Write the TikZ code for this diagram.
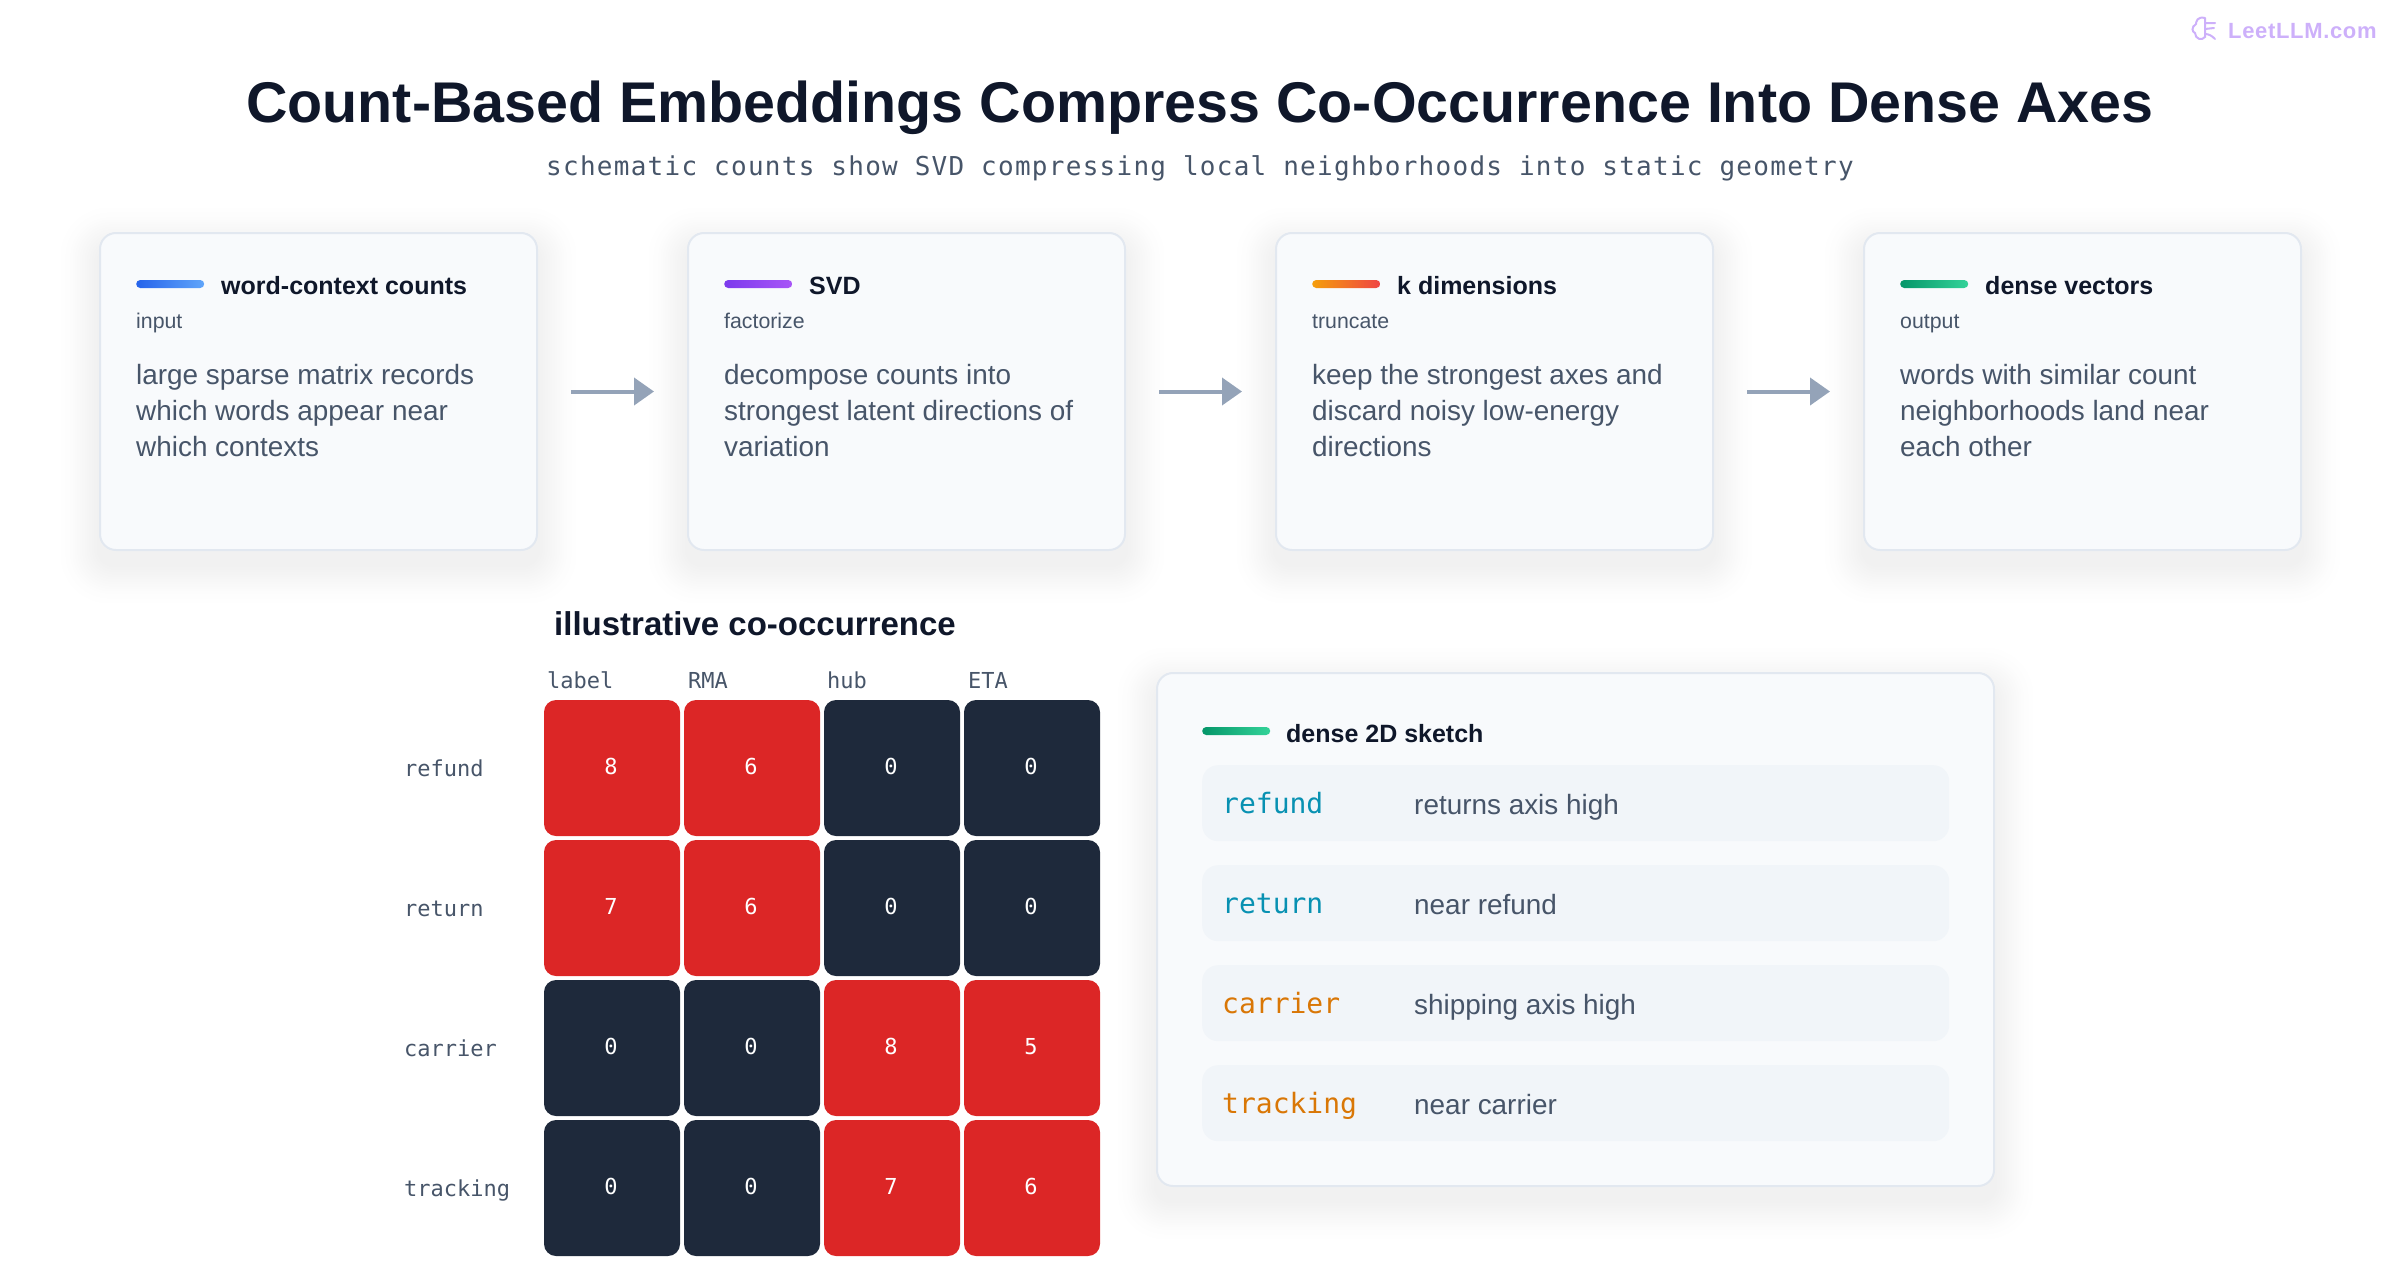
\documentclass[tikz,border=0pt]{standalone}
\usepackage{fontspec}
\usepackage{xcolor}
\setmainfont{Liberation Sans}
\setmonofont{DejaVu Sans Mono}
\newfontfamily\spacedmono[LetterSpace=4.9]{DejaVu Sans Mono}
\newfontfamily\markfont[LetterSpace=3]{Liberation Sans}
\usetikzlibrary{positioning,arrows.meta,backgrounds}

\definecolor{inkdark}{HTML}{0F172A}
\definecolor{inkbody}{HTML}{475569}
\definecolor{cardfill}{HTML}{F8FAFC}
\definecolor{cardline}{HTML}{E2E8F0}
\definecolor{rowfill}{HTML}{F1F5F9}
\definecolor{arrowgray}{HTML}{94A3B8}
\definecolor{cellred}{HTML}{DC2626}
\definecolor{cellnavy}{HTML}{1E293B}
\definecolor{wordteal}{HTML}{0891B2}
\definecolor{wordamber}{HTML}{D97706}
\definecolor{markpurple}{HTML}{CDB0FA}
\definecolor{bluea}{HTML}{2563EB}
\definecolor{blueb}{HTML}{60A5FA}
\definecolor{purplea}{HTML}{7C3AED}
\definecolor{purpleb}{HTML}{A855F7}
\definecolor{orangea}{HTML}{F59E0B}
\definecolor{orangeb}{HTML}{EF4444}
\definecolor{greena}{HTML}{059669}
\definecolor{greenb}{HTML}{34D399}

\newcommand{\softshadow}[1]{%
  \begin{scope}[on background layer]
    \foreach \s in {1,2,3,4,5,6,7,8,9,10,11,12,14,16} {
      \fill[black,opacity=0.0055,rounded corners=16pt+2pt*\s]
        ([xshift=-2.4pt*\s,yshift=-14pt-2.4pt*\s]#1.south west) rectangle ([xshift=2.4pt*\s,yshift=-14pt+2.4pt*\s]#1.north east);
    }
  \end{scope}}

\tikzset{
  card/.style={draw=cardline, line width=2pt, fill=cardfill, rounded corners=16pt, inner sep=0pt, minimum width=437pt, minimum height=317pt},
  bar/.style={anchor=west, inner sep=0pt, minimum width=68pt, minimum height=8pt, rounded corners=4pt, left color=#1},
  cardtitle/.style={anchor=base west, inner sep=0pt, text=inkdark, font=\fontsize{25}{28}\selectfont\bfseries},
  cardtag/.style={anchor=base west, inner sep=0pt, text=inkbody, font=\fontsize{21.3}{24}\selectfont},
  cardbody/.style={anchor=north west, inner sep=0pt, align=left, text=inkbody, font=\fontsize{27.9}{36}\selectfont},
  flow/.style={-{Triangle[length=20pt,width=27pt]}, line width=4pt, draw=arrowgray, shorten <=33pt, shorten >=33pt},
  matcell/.style={rounded corners=12pt, inner sep=0pt, minimum width=136pt, minimum height=136pt, text=white, text depth=4pt, font=\fontsize{22}{26}\selectfont\ttfamily},
  axislabel/.style={anchor=base west, inner sep=0pt, text=inkbody, font=\fontsize{22}{26}\selectfont\ttfamily},
  sketchrow/.style={rounded corners=16pt, fill=rowfill, inner sep=0pt, minimum width=747pt, minimum height=76pt},
  sketchword/.style={anchor=base west, inner sep=0pt, font=\fontsize{28}{32}\selectfont\ttfamily},
  sketchnote/.style={anchor=base west, inner sep=0pt, text=inkbody, font=\fontsize{27.9}{32}\selectfont}
}

\begin{document}
\begin{tikzpicture}[x=1pt,y=-1pt]
  \useasboundingbox (0,0) rectangle (2400,1274);

  % heading
  \node (heading) [inner sep=0pt, anchor=base, text=inkdark, font=\fontsize{57.4}{66}\selectfont\bfseries] at (1200,122) {Count-Based Embeddings Compress Co-Occurrence Into Dense Axes};
  \node (subheading) [inner sep=0pt, anchor=base, text=inkbody, font=\fontsize{26}{30}\selectfont\spacedmono] at (1200,175) {schematic counts show SVD compressing local neighborhoods into static geometry};

  % watermark
  \node (watermark) [inner sep=0pt, anchor=base west, text=markpurple, font=\fontsize{22}{26}\selectfont\markfont\bfseries] at (2228,38) {LeetLLM.com};
  \draw[markpurple, line width=2pt, line cap=round] (2205,18) .. controls (2197,16) and (2196,22) .. (2196,24) .. controls (2191,27) and (2192,32) .. (2195,33) .. controls (2195,39) and (2202,41) .. (2205,37) -- (2205,18);
  \draw[markpurple, line width=2pt, line cap=round] (2205,23) -- (2215,23) (2205,29) -- (2214,28) (2205,34) .. controls (2209,34) and (2212,36) .. (2215,39);

  % pipeline cards
  \node (inputcard) [card, anchor=north west] at (99,232) {};
  \node (svdcard) [card, right=149pt of inputcard] {};
  \node (truncatecard) [card, right=149pt of svdcard] {};
  \node (densecard) [card, right=149pt of truncatecard] {};
  \softshadow{inputcard}
  \softshadow{svdcard}
  \softshadow{truncatecard}
  \softshadow{densecard}

  \node (inputbar) [bar=bluea, right color=blueb] at ([xshift=37pt,yshift=-52pt]inputcard.north west) {};
  \node (inputtitle) [cardtitle] at ([xshift=122pt,yshift=-62pt]inputcard.north west) {word-context counts};
  \node (inputtag) [cardtag] at ([xshift=37pt,yshift=-96pt]inputcard.north west) {input};
  \node (inputbody) [cardbody] at ([xshift=37pt,yshift=-132.5pt]inputcard.north west) {large sparse matrix records\\which words appear near\\which contexts};

  \node (svdbar) [bar=purplea, right color=purpleb] at ([xshift=37pt,yshift=-52pt]svdcard.north west) {};
  \node (svdtitle) [cardtitle] at ([xshift=122pt,yshift=-62pt]svdcard.north west) {SVD};
  \node (svdtag) [cardtag] at ([xshift=37pt,yshift=-96pt]svdcard.north west) {factorize};
  \node (svdbody) [cardbody] at ([xshift=37pt,yshift=-132.5pt]svdcard.north west) {decompose counts into\\strongest latent directions of\\variation};

  \node (truncatebar) [bar=orangea, right color=orangeb] at ([xshift=37pt,yshift=-52pt]truncatecard.north west) {};
  \node (truncatetitle) [cardtitle] at ([xshift=122pt,yshift=-62pt]truncatecard.north west) {k dimensions};
  \node (truncatetag) [cardtag] at ([xshift=37pt,yshift=-96pt]truncatecard.north west) {truncate};
  \node (truncatebody) [cardbody] at ([xshift=37pt,yshift=-132.5pt]truncatecard.north west) {keep the strongest axes and\\discard noisy low-energy\\directions};

  \node (densebar) [bar=greena, right color=greenb] at ([xshift=37pt,yshift=-52pt]densecard.north west) {};
  \node (densetitle) [cardtitle] at ([xshift=122pt,yshift=-62pt]densecard.north west) {dense vectors};
  \node (densetag) [cardtag] at ([xshift=37pt,yshift=-96pt]densecard.north west) {output};
  \node (densebody) [cardbody] at ([xshift=37pt,yshift=-132.5pt]densecard.north west) {words with similar count\\neighborhoods land near\\each other};

  \draw[flow] (inputcard) -- (svdcard);
  \draw[flow] (svdcard) -- (truncatecard);
  \draw[flow] (truncatecard) -- (densecard);

  % count matrix
  \node (mattitle) [inner sep=0pt, anchor=base west, text=inkdark, font=\fontsize{33}{36}\selectfont\bfseries] at (554,635) {illustrative co-occurrence};
  \foreach \v [count=\n from 0] in {8,6,0,0,7,6,0,0,0,0,8,5,0,0,7,6} {
    \pgfmathtruncatemacro\r{int(\n/4)}
    \pgfmathtruncatemacro\c{mod(\n,4)}
    \ifnum\v>0 \def\cellfill{cellred}\else\def\cellfill{cellnavy}\fi
    \node (cell\r\c) [matcell, fill=\cellfill] at (612+140*\c,768+140*\r) {\v\kern2pt};
  }
  \node (collabel) [axislabel] at (547,688) {label};
  \node (colrma) [axislabel] at (688,688) {RMA};
  \node (colhub) [axislabel] at (827,688) {hub};
  \node (coleta) [axislabel] at (968,688) {ETA};
  \node (rowrefund) [axislabel] at (404,776) {refund};
  \node (rowreturn) [axislabel] at (404,916) {return};
  \node (rowcarrier) [axislabel] at (404,1056) {carrier};
  \node (rowtracking) [axislabel] at (404,1196) {tracking};

  % sketch panel
  \node (panel) [card, minimum width=837pt, minimum height=513pt, anchor=north west] at (1156,672) {};
  \softshadow{panel}
  \node (panelbar) [bar=greena, right color=greenb] at (1202,731) {};
  \node (paneltitle) [cardtitle] at (1286,742) {dense 2D sketch};
  \node (rowa) [sketchrow, anchor=north west] at (1202,765) {};
  \node (rowb) [sketchrow, anchor=north west] at (1202,865) {};
  \node (rowc) [sketchrow, anchor=north west] at (1202,965) {};
  \node (rowd) [sketchrow, anchor=north west] at (1202,1065) {};
  \node (worda) [sketchword, text=wordteal] at (1222,813) {refund};
  \node (wordb) [sketchword, text=wordteal] at (1222,913) {return};
  \node (wordc) [sketchword, text=wordamber] at (1222,1013) {carrier};
  \node (wordd) [sketchword, text=wordamber] at (1222,1113) {tracking};
  \node (notea) [sketchnote] at (1414,814) {returns axis high};
  \node (noteb) [sketchnote] at (1414,914) {near refund};
  \node (notec) [sketchnote] at (1414,1014) {shipping axis high};
  \node (noted) [sketchnote] at (1414,1114) {near carrier};
\end{tikzpicture}
\end{document}
